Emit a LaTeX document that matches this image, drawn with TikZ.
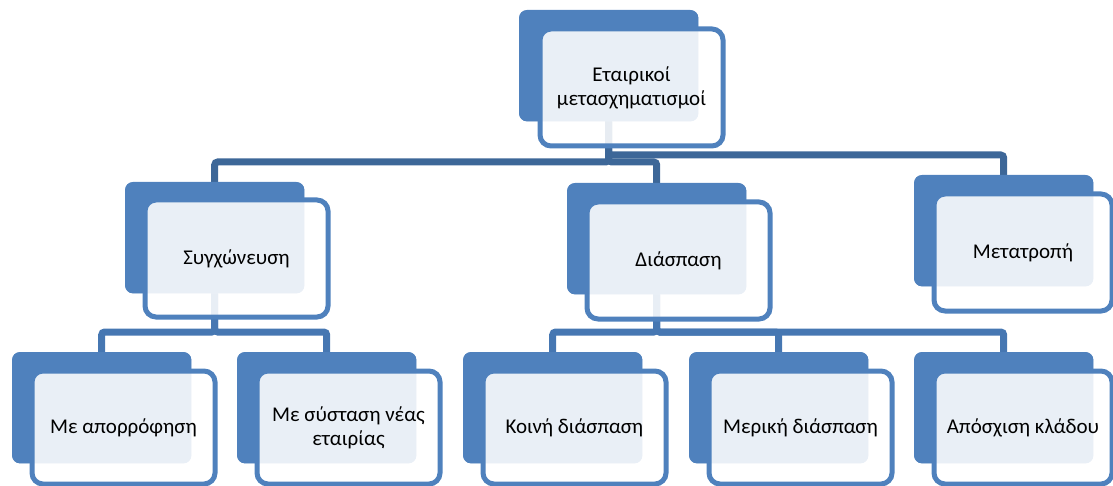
\documentclass[tikz,border=0pt]{standalone}
\usepackage{fontspec}
\setmainfont{Carlito}
\definecolor{boxblue}{HTML}{4F81BD}
\definecolor{connA}{HTML}{3D6798}
\definecolor{connB}{HTML}{4677B2}
\begin{document}
\begin{tikzpicture}[x=1pt,y=-1pt,
  darkbox/.style={fill=boxblue, draw=none, rounded corners=8pt, minimum width=179pt, minimum height=111pt, inner sep=0pt, anchor=north west},
  frontbox/.style={draw=boxblue, line width=5pt, fill=white, fill opacity=0.88, text opacity=1, rounded corners=11pt, minimum width=183pt, minimum height=117pt, inner sep=0pt, anchor=north west, align=center, font=\fontsize{21}{24}\selectfont},
  conn/.style={line width=7pt, rounded corners=3pt},
]
\useasboundingbox (0,0) rectangle (1113,486);
% dark back boxes
\node[darkbox] (d0) at (519,10) {};
\node[darkbox] (d1) at (125,182) {};
\node[darkbox] (d2) at (567,183) {};
\node[darkbox] (d3) at (914,175) {};
\node[darkbox] (d4) at (12,352) {};
\node[darkbox] (d5) at (237,352) {};
\node[darkbox] (d6) at (463,352) {};
\node[darkbox] (d7) at (689,352) {};
\node[darkbox] (d8) at (914,352) {};
% connectors
\coordinate (mA) at (0,162);
\coordinate (mB) at (0,155);
\coordinate (mC) at (0,332);
\draw[conn, connA] (d0.south) |- (d1.north |- mA) -- (d1.north);
\draw[conn, connA] (d0.south) |- (d2.north |- mA) -- (d2.north);
\draw[conn, connA] (d0.south) |- (d3.north |- mB) -- (d3.north);
\draw[conn, connB] (d1.south) |- (d4.north |- mC) -- (d4.north);
\draw[conn, connB] (d1.south) |- (d5.north |- mC) -- (d5.north);
\draw[conn, connB] (d2.south) |- (d6.north |- mC) -- (d6.north);
\draw[conn, connB] (d2.south) |- (d7.north |- mC) -- (d7.north);
\draw[conn, connB] (d2.south) |- (d8.north |- mC) -- (d8.north);
% redraw dark boxes over connector ends
\foreach \n in {d0,d1,d2,d3,d4,d5,d6,d7,d8}{
  \fill[boxblue, rounded corners=8pt] (\n.north west) rectangle (\n.south east);
}
% front boxes
\node[frontbox] (f0) at (537.5,26.5) {Εταιρικοί\\μετασχηματισμοί};
\node[frontbox] (f1) at (142.5,197.5) {Συγχώνευση};
\node[frontbox] (f2) at (584.5,199.5) {Διάσπαση};
\node[frontbox, minimum width=178pt] (f3) at (931.5,191.5) {Μετατροπή};
\node[frontbox, minimum height=113pt] (f4) at (29.5,368.5) {Με απορρόφηση};
\node[frontbox, minimum height=113pt] (f5) at (254.5,368.5) {Με σύσταση νέας\\εταιρίας};
\node[frontbox, minimum height=113pt] (f6) at (480.5,368.5) {Κοινή διάσπαση};
\node[frontbox, minimum height=113pt] (f7) at (706.5,368.5) {Μερική διάσπαση};
\node[frontbox, minimum height=113pt, minimum width=178pt] (f8) at (931.5,368.5) {Απόσχιση κλάδου};
\end{tikzpicture}
\end{document}
